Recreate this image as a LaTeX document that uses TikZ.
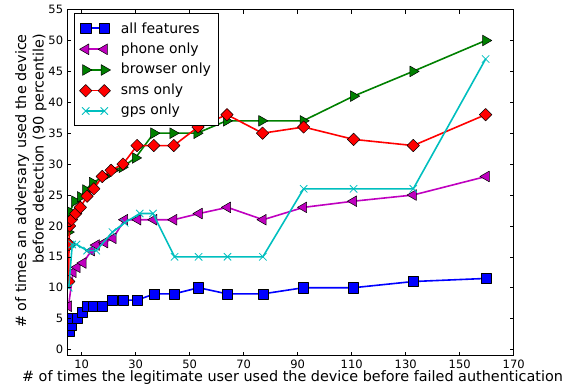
\documentclass[tikz,border=0pt]{standalone}
\usepackage{fontspec}
\setmainfont{DejaVu Sans}
\usetikzlibrary{plotmarks}
\definecolor{mplblue}{rgb}{0,0,1}
\definecolor{mplmag}{rgb}{0.75,0,0.75}
\definecolor{mplgreen}{rgb}{0,0.5,0}
\definecolor{mplred}{rgb}{1,0,0}
\definecolor{mplcyan}{rgb}{0,0.75,0.75}
\tikzset{
  series/.style={line width=1.6pt, line join=round},
  sqmark/.style={mark=square*, mark size=5.1pt, mark options={solid, line width=0.5pt, draw=black, fill=mplblue}},
  leftmark/.style={mark=triangle*, mark size=6.2pt, mark options={solid, rotate=90, line width=0.5pt, draw=black, fill=mplmag}},
  rightmark/.style={mark=triangle*, mark size=6.2pt, mark options={solid, rotate=-90, line width=0.5pt, draw=black, fill=mplgreen}},
  dmark/.style={mark=square*, mark size=4.4pt, mark options={solid, rotate=45, line width=0.5pt, draw=black, fill=mplred}},
  xmark/.style={mark=x, mark size=5.2pt, mark options={solid, line width=0.8pt, draw=mplcyan}},
  ticklab/.style={font=\fontsize{11.5}{12}\selectfont, inner sep=0pt},
  axlab/.style={font=\fontsize{14.4}{17.5}\selectfont, inner sep=0pt},
  leglab/.style={font=\fontsize{14}{16}\selectfont, inner sep=0pt, anchor=west},
}
\begin{document}
\begin{tikzpicture}[x=1pt,y=1pt]
\useasboundingbox (0,0) rectangle (571,389);
\begin{scope}[shift={(54.7,39.5)}, x=2.7pt, y=6.18pt]
  \begin{scope}
    \clip (4.67,-1) rectangle (170,55);
    \draw[series, mplblue] plot[sqmark] coordinates {(5.3,3) (6.2,4) (5.6,5) (8.3,5) (10.2,6) (12.1,7) (14.2,7) (17.5,7) (21.2,8) (25.3,8) (30.5,8) (37,9) (44.2,9) (53.3,10) (63.9,9) (77.1,9) (92.2,10) (110.7,10) (132.8,11) (159.8,11.5)};
    \draw[series, mplmag] plot[leftmark] coordinates {(5.1,7) (6.8,12.5) (8.3,13.3) (10.5,14) (13.6,16) (15.4,16.9) (18.5,17.3) (21.6,18) (25.9,21) (30.8,21) (36.7,21) (44.1,21) (53.5,22) (64,23) (77.2,21) (92.2,23) (110.7,24) (132.8,25) (159.8,28)};
    \draw[series, mplgreen] plot[rightmark] coordinates {(5.0,19) (5.6,22.3) (7.4,24) (9.5,24.7) (11.5,25.8) (14,27) (18.5,28) (21.6,29) (25,29.5) (29.9,31) (36.7,35) (43.8,35) (52.7,35) (63.6,37) (76.7,37) (92,37) (110.7,41) (132.7,45) (159.6,50)};
    \draw[series, mplred] plot[dmark] coordinates {(5.2,11) (5.3,17) (5.5,20) (6.2,21) (7.8,22) (9.5,23) (12,24.8) (14.5,26) (17.6,28) (20.9,29) (25.3,30) (30.5,33) (36.7,33) (44.1,33) (53.1,36) (63.8,38) (77,35) (92.2,36) (110.7,34) (132.8,33) (159.6,38)};
    \draw[series, mplcyan] plot[xmark] coordinates {(5.2,10) (6.5,17) (8.1,17) (12,16) (15.4,16) (21.4,19) (25.9,20.5) (31.5,22) (36.4,22) (44.4,15) (53.3,15) (64,15) (77.1,15) (92.2,26) (110.7,26) (132.8,26) (159.6,47)};
  \end{scope}
  % frame
  \draw[line width=0.8pt] (4.67,-1) rectangle (170,55);
  % x ticks
  \foreach \t in {10,30,...,170} {
    \draw[line width=0.6pt] (\t,-1) -- ++(0,4pt);
    \draw[line width=0.6pt] (\t,55) -- ++(0,-4pt);
    \node[ticklab] at ([yshift=-8.5pt]\t,-1) {\t};
  }
  % y ticks
  \foreach \t in {0,5,...,55} {
    \draw[line width=0.6pt] (4.67,\t) -- ++(4pt,0);
    \draw[line width=0.6pt] (170,\t) -- ++(-4pt,0);
    \node[ticklab, anchor=east] at ([xshift=-4pt]4.67,\t) {\t};
  }
\end{scope}
% axis labels
\node[axlab] (xl) at (292.5,11) {\# of times the legitimate user used the device before failed authentication};
\node[axlab, rotate=90, align=right, anchor=north east] (yl) at (15,355) {\# of times an adversary used the device\\before detection (90 percentile)};
% legend
\draw[line width=0.6pt, fill=white] (74,264) rectangle (218,376);
\draw[series, mplblue] plot[sqmark] coordinates {(85.7,360.7) (104.3,360.7)};
\node[leglab] at (120.7,360.7) {all features};
\draw[series, mplmag] plot[leftmark] coordinates {(85.7,339.7) (104.3,339.7)};
\node[leglab] at (120.7,339.7) {phone only};
\draw[series, mplgreen] plot[rightmark] coordinates {(85.7,319) (104.3,319)};
\node[leglab] at (120.7,319) {browser only};
\draw[series, mplred] plot[dmark] coordinates {(85.7,298.3) (104.3,298.3)};
\node[leglab] at (120.7,298.3) {sms only};
\draw[series, mplcyan] plot[xmark] coordinates {(85.7,278) (104.3,278)};
\node[leglab] at (120.7,278) {gps only};
\end{tikzpicture}
\end{document}
